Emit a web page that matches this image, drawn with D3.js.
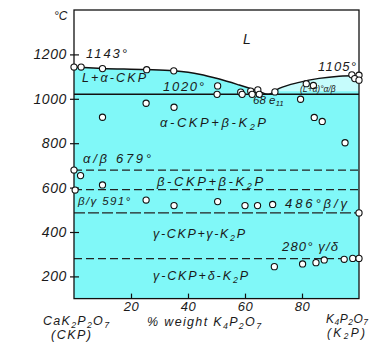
<!DOCTYPE html>
<html>
<head>
<meta charset="utf-8">
<script src="https://cdn.jsdelivr.net/npm/d3@7/dist/d3.min.js"></script>
<style>
  html, body { margin: 0; padding: 0; background: #fff; }
  svg { display: block; }
  text { font-family: "Liberation Sans", "DejaVu Sans", sans-serif; font-style: italic; fill: #1a1a1a; }
</style>
</head>
<body>
<svg id="chart" width="383" height="343"></svg>
<script>
// CaK2P2O7 – K4P2O7 phase diagram (composition in % weight K4P2O7, temperature in °C)

// Liquidus branches: [% K4P2O7, °C]
const liquidusLeft = [[0, 1143], [10, 1137], [25, 1132], [35, 1126], [44, 1111], [51, 1089], [58, 1062], [65, 1033], [68, 1020]];
const liquidusRight = [[68, 1020], [72, 1047], [79, 1074], [86, 1092], [93, 1102], [100, 1105]];

// Invariant / transition temperatures
const solidusT = 1020;
const transitions = [679, 591, 486, 280];

// Experimental points: [% K4P2O7, °C]
const points = [
  [0, 1143], [2.5, 1143], [10, 1136], [25.5, 1131], [35, 1126],
  [50.4, 1058], [58.5, 1030], [62, 1035], [64.5, 1040], [70.5, 1031],
  [50.2, 1020], [59, 1020], [62.5, 1020], [65, 1020],
  [97.5, 1108], [100, 1106], [98.5, 1091], [100, 1084], [81.5, 1068], [84, 1060],
  [79.5, 998], [84.3, 916], [87.1, 898], [95.1, 802], [25.3, 980], [35.1, 962], [10, 917],
  [0, 679], [2.3, 654], [0.4, 589], [10, 612],
  [25.3, 544], [35.1, 519], [50.4, 537], [60, 519], [64.4, 519], [69.7, 524], [100, 486],
  [70.3, 244], [80.2, 256], [84.9, 262], [87.8, 274], [94.8, 277], [97.8, 281], [100, 281]
];

// Axis ticks
const xTicks = [20, 40, 60, 80];
const yTicks = [200, 400, 600, 800, 1000, 1200];

const svg = d3.select("#chart");
const x = d3.scaleLinear().domain([0, 100]).range([74, 359]);
const y = d3.scaleLinear().domain([100, 1400]).range([298.6, 10]);

const CYAN = "#80f8f8";

// Solid region below the liquidus
const liquidus = liquidusLeft.concat(liquidusRight.slice(1));
const area = d3.area()
  .x(d => x(d[0]))
  .y0(y(100))
  .y1(d => y(d[1]))
  .curve(d3.curveMonotoneX);
svg.append("path").datum(liquidus).attr("d", area).attr("fill", CYAN);

// Lighter, partly melted band on the K4P2O7 side
const bandArea = d3.area()
  .x(d => x(d[0]))
  .y0(y(solidusT + 14))
  .y1(d => y(d[1]))
  .curve(d3.curveMonotoneX);
svg.append("path")
  .datum(liquidusRight.filter(d => d[1] >= solidusT + 14 || d[0] === 72))
  .attr("d", bandArea).attr("fill", "#ffffff").attr("opacity", 0.55);

// Liquidus curve
const line = d3.line().x(d => x(d[0])).y(d => y(d[1])).curve(d3.curveMonotoneX);
svg.append("path").datum(liquidus).attr("d", line)
  .attr("fill", "none").attr("stroke", "#111").attr("stroke-width", 1.5);

// Eutectic (solidus) line
svg.append("line")
  .attr("x1", x(0)).attr("x2", x(100))
  .attr("y1", y(solidusT)).attr("y2", y(solidusT))
  .attr("stroke", "#111").attr("stroke-width", 1.5);

// Polymorphic transition lines
svg.selectAll("line.tr").data(transitions).enter().append("line")
  .attr("class", "tr")
  .attr("x1", x(0)).attr("x2", x(100))
  .attr("y1", d => y(d)).attr("y2", d => y(d))
  .attr("stroke", "#222").attr("stroke-width", 1.2)
  .attr("stroke-dasharray", d => d === 486 ? "11,3" : "8,4");

// Frame
svg.append("rect")
  .attr("x", x(0)).attr("y", y(1400))
  .attr("width", x(100) - x(0)).attr("height", y(100) - y(1400))
  .attr("fill", "none").attr("stroke", "#111").attr("stroke-width", 1.3);

// Axes
const yAxis = d3.axisLeft(y).tickValues(yTicks).tickFormat(d3.format("d"))
  .tickSize(-7).tickSizeOuter(0).tickPadding(4);
const gy = svg.append("g").attr("transform", `translate(${x(0) - 3},0)`).call(yAxis);
gy.select(".domain").remove();
gy.selectAll(".tick line").attr("stroke", "#111").attr("stroke-width", 1.2).attr("x1", -1).attr("x2", 8);
gy.selectAll(".tick text").attr("font-size", 14).attr("font-style", "italic")
  .attr("font-family", "Liberation Sans, sans-serif").attr("fill", "#1a1a1a")
  .attr("letter-spacing", 0.6);

const xAxis = d3.axisBottom(x).tickValues(xTicks).tickFormat(d3.format("d"))
  .tickSize(-5).tickSizeOuter(0).tickPadding(3);
const gx = svg.append("g").attr("transform", `translate(0,${y(100)})`).call(xAxis);
gx.select(".domain").remove();
gx.selectAll(".tick line").attr("stroke", "#111").attr("stroke-width", 1.2);
gx.selectAll(".tick text").attr("font-size", 13).attr("font-style", "italic")
  .attr("font-family", "Liberation Sans, sans-serif").attr("fill", "#1a1a1a")
  .attr("letter-spacing", 0.6);

// Data points
svg.selectAll("circle.pt").data(points).enter().append("circle")
  .attr("class", "pt")
  .attr("cx", d => x(d[0])).attr("cy", d => y(d[1]))
  .attr("r", 3.1)
  .attr("fill", "#fff").attr("stroke", "#111").attr("stroke-width", 1.1);

// Labels (text with small lowered subscripts); optional width widens the lettering
function label(px, py, parts, size, width) {
  const t = svg.append("text").attr("x", px).attr("y", py).attr("font-size", size);
  const shift = size * 0.2;
  let lowered = false, n = 0;
  parts.forEach(p => {
    if (typeof p === "string") {
      t.append("tspan").attr("dy", lowered ? -shift : 0).text(p);
      lowered = false;
      n += p.length;
    } else {
      t.append("tspan").attr("dy", lowered ? 0 : shift).attr("font-size", size * 0.7).text(p.sub);
      lowered = true;
      n += p.sub.length;
    }
  });
  if (width) {
    const w = t.node().getComputedTextLength();
    const ls = Math.max(0, (width - w) / Math.max(1, n - 1));
    t.attr("letter-spacing", ls.toFixed(2));
  }
  return t;
}

label(54, 20, ["°C"], 12);
label(86, 58, ["1143°"], 13, 41);
label(243, 44, ["L"], 14);
label(318, 71, ["1105°"], 13, 38);
label(82, 82, ["L+α-CKP"], 12.5, 64);
label(163, 91, ["1020°"], 13, 41);
label(253, 104, ["68 e", { sub: "11" }], 11.5, 29);
label(300, 92, ["(L+α)°α/β"], 8.5);
label(160, 127, ["α-CKP+β-K", { sub: "2" }, "P"], 13, 106);
label(83, 163, ["α/β 679°"], 13, 68);
label(157, 186, ["β-CKP+β-K", { sub: "2" }, "P"], 13, 106);
label(78, 205, ["β/γ 591°"], 11.5, 52);
label(285, 208, ["486°β/γ"], 13, 62);
label(153, 238, ["γ-CKP+γ-K", { sub: "2" }, "P"], 12.5, 92);
label(282, 251, ["280° γ/δ"], 13, 56);
label(153, 280, ["γ-CKP+δ-K", { sub: "2" }, "P"], 12.5, 95);

label(43, 325, ["CaK", { sub: "2" }, "P", { sub: "2" }, "O", { sub: "7" }], 12.5, 66);
label(51, 339, ["(CKP)"], 12.5, 40);
label(147, 326, ["% weight K", { sub: "4" }, "P", { sub: "2" }, "O", { sub: "7" }], 12.5, 114);
label(326, 323, ["K", { sub: "4" }, "P", { sub: "2" }, "O", { sub: "7" }], 12, 42);
label(327, 337, ["(K", { sub: "2" }, "P)"], 12, 38);
</script>
</body>
</html>
